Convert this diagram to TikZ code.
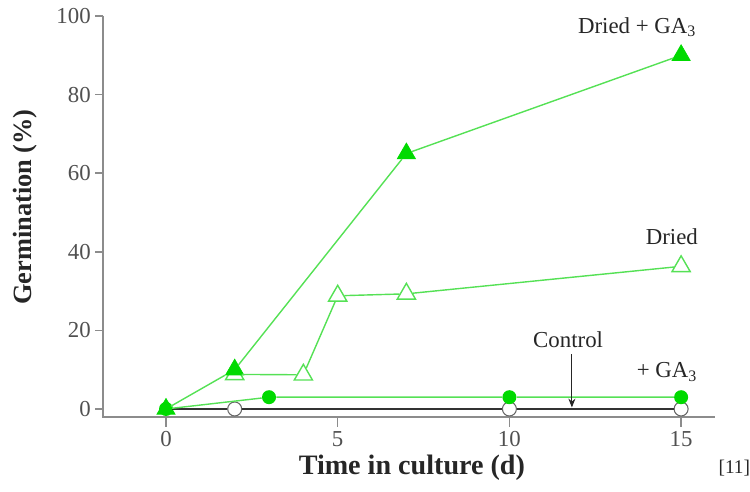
\documentclass[tikz,border=0pt]{standalone}
\usepackage{fontspec}
\setmainfont{Liberation Serif}
\usetikzlibrary{shapes.geometric,arrows.meta}
\definecolor{linegreen}{RGB}{85,225,85}
\definecolor{markgreen}{RGB}{0,218,0}
\definecolor{axisgray}{RGB}{140,140,140}
\definecolor{textgray}{RGB}{80,80,80}

\begin{document}
\begin{tikzpicture}[x=0.6868cm, y=0.0786cm,
      axis/.style={color=axisgray, line width=0.9pt},
      ticklabel/.style={font=\fontsize{13}{15}\selectfont, text=textgray, inner sep=2pt},
      series/.style={color=linegreen, line width=0.8pt},
      ctrlline/.style={color=black!80, line width=0.8pt},
      ftri/.style={regular polygon, regular polygon sides=3, inner sep=0pt,
        minimum size=0.42cm, fill=markgreen, draw=markgreen},
      otri/.style={regular polygon, regular polygon sides=3, inner sep=0pt,
        minimum size=0.42cm, fill=white, draw=linegreen, line width=0.8pt},
      fdot/.style={circle, inner sep=0pt, minimum size=0.28cm, fill=markgreen},
      odot/.style={circle, inner sep=0pt, minimum size=0.28cm, fill=white,
        draw=black!60, line width=0.6pt},
      lbl/.style={font=\fontsize{13}{15}\selectfont, text=black!85}
    ]
    \useasboundingbox (-4.834,-20.87) rectangle (17.006,104.07);
    % axes and ticks
    \draw [axis] (-1.835,100) -- (-1.835,-2.04) -- (16,-2.04);
    \foreach \y in {0,20,...,100}
      \draw [axis] (-1.835,\y) -- ++(-0.16cm,0) node [ticklabel, left] (yt\y) {\y};
    \foreach \x in {0,5,10,15}
      \draw [axis] (\x,-2.04) -- ++(0,-0.2cm) node [ticklabel, below] (xt\x) {\x};
    \node [lbl, font=\fontsize{15}{17}\selectfont\bfseries, rotate=90] (ylab) at (-4.106,51.4) {Germination (\%)};
    \node [lbl, font=\fontsize{16}{18}\selectfont\bfseries] (xlab) at (7.16,-15.0) {Time in culture (d)};
    \node [lbl, font=\fontsize{11}{13}\selectfont] (ref) at (16.55,-15.0) {[11]};
    % control
    \node [odot] (c2) at (2,0) {};
    \node [odot] (c10) at (10,0) {};
    \node [odot] (c15) at (15,0) {};
    % + GA3
    \node [fdot] (g0) at (0,0) {};
    \node [fdot] (g3) at (3,3) {};
    \node [fdot] (g10) at (10,3) {};
    \node [fdot] (g15) at (15,3) {};
    % dried
    \node [otri] (d2) at (2,8.8) {};
    \node [otri] (d4) at (4,8.7) {};
    \node [otri] (d5) at (5,28.8) {};
    \node [otri] (d7) at (7,29.3) {};
    \node [otri] (d15) at (15,36.3) {};
    % dried + GA3
    \node [ftri] (p0) at (0,0) {};
    \node [ftri] (p2) at (2,10) {};
    \node [ftri] (p7) at (7,65) {};
    \node [ftri] (p15) at (15,90) {};
    \draw [ctrlline] (p0) -- (c2) -- (c10) -- (c15);
    \draw [series] (p0) -- (g3) -- (g10) -- (g15);
    \draw [series] (p0) -- (p2) -- (p7) -- (p15);
    \draw [series] (d2) -- (d4) -- (d5) -- (d7) -- (d15);
    % labels
    \node [lbl] (lp) at (13.72,97.2) {Dried + GA\textsubscript{3}};
    \node [lbl] (ld) at (14.73,43.8) {Dried};
    \node [lbl] (lg) at (14.59,9.4) {+ GA\textsubscript{3}};
    \node [lbl] (lc) at (11.71,17.6) {Control};
    \coordinate (ctip) at (11.82,0.4);
    \draw [-{Stealth[length=5pt,width=4pt]}, black!85, line width=0.6pt] (lc.south -| ctip) -- (ctip);
  \end{tikzpicture}
\end{document}
